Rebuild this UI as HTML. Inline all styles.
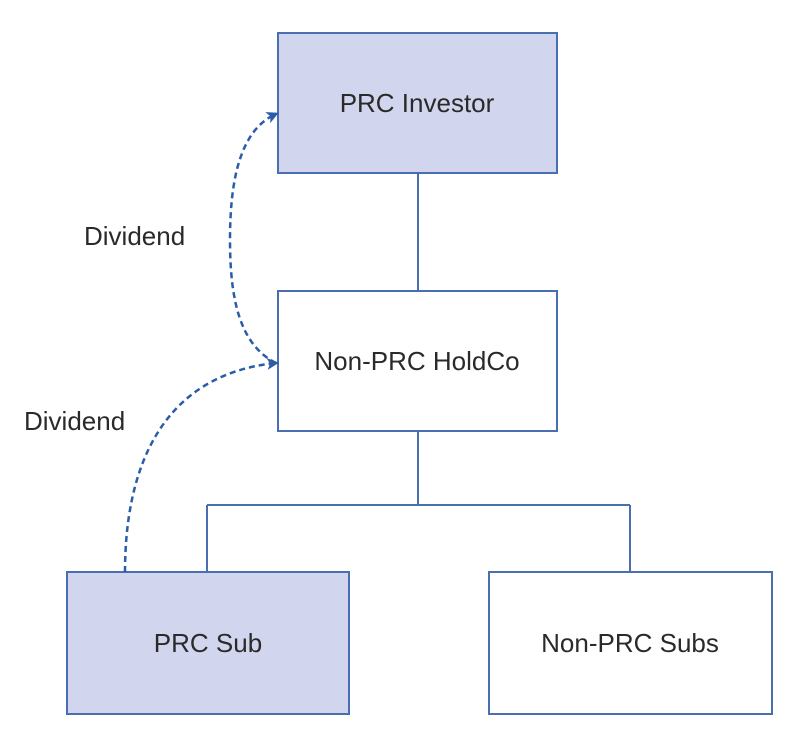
<!DOCTYPE html>
<html><head><style>
body{margin:0;background:#fff;}
svg text{font-family:"Liberation Sans",sans-serif;font-size:26px;fill:#2a2a2a;}
</style></head><body>
<svg width="800" height="747" viewBox="0 0 800 747" xmlns="http://www.w3.org/2000/svg">
<defs><marker id="a" markerWidth="12" markerHeight="12" refX="9" refY="6" orient="auto" markerUnits="userSpaceOnUse"><path d="M0,0 L12,6 L0,12 L3,6 Z" fill="#2a5ca8"/></marker></defs>
<g stroke="#4a6fb0" stroke-width="2">
<rect x="278" y="33" width="279" height="140" fill="#d2d5ee"/>
<rect x="278" y="291" width="279" height="140" fill="#fff"/>
<rect x="67" y="572" width="282" height="142" fill="#d2d5ee"/>
<rect x="489" y="572" width="283" height="142" fill="#fff"/>
<path d="M418 173V291M418 431V505M207 505H630M207 505V572M630 505V572" fill="none"/>
</g>
<g stroke="#2a5ca8" stroke-width="2.5" stroke-dasharray="6,4" fill="none">
<path d="M276 363 C240 345 230 300 230 240 C230 180 240 130 276 114" marker-end="url(#a)"/>
<path d="M125 572 C125 470 160 375 276 363" marker-end="url(#a)"/>
</g>
<text x="417" y="112" text-anchor="middle">PRC Investor</text>
<text x="417" y="370" text-anchor="middle">Non-PRC HoldCo</text>
<text x="208" y="652" text-anchor="middle">PRC Sub</text>
<text x="630" y="652" text-anchor="middle">Non-PRC Subs</text>
<text x="84" y="245">Dividend</text>
<text x="24" y="430">Dividend</text>
</svg>
</body></html>
